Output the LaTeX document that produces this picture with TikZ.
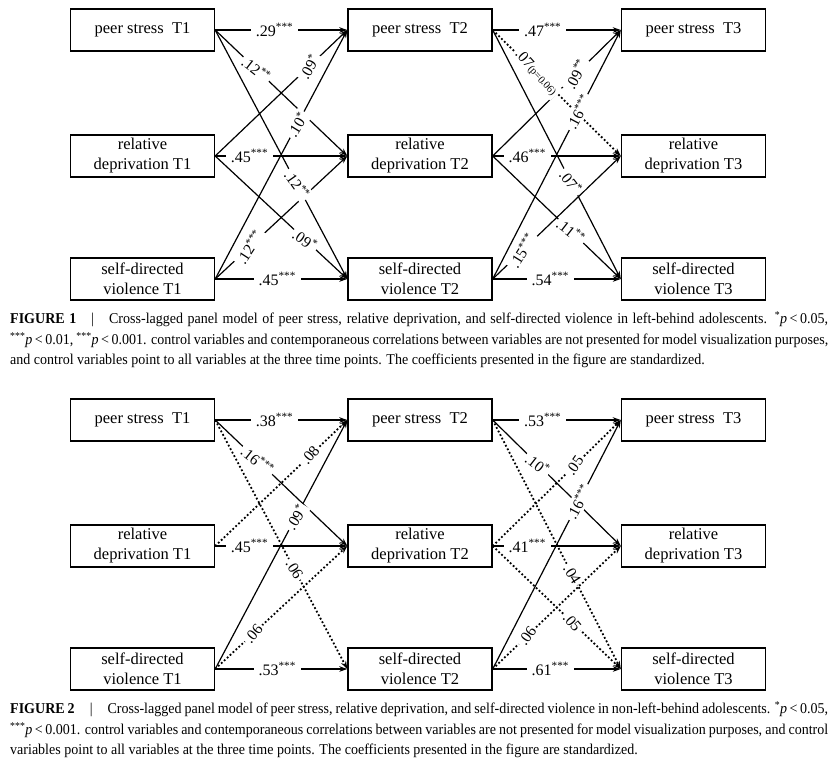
\documentclass[tikz,border=0pt]{standalone}
\usepackage{fontspec}
\setmainfont{Liberation Serif}
\newfontfamily\capfont[FakeStretch=0.935]{Liberation Serif}
\usetikzlibrary{arrows.meta}
\newcommand\sg[1]{\textsuperscript{#1}}
\newcommand\capline[1]{\capfont\fontsize{15}{17}\selectfont #1}
\begin{document}
\begin{tikzpicture}[x=1pt,y=-1pt,
  box/.style={draw, line width=1.4pt, minimum width=144pt, minimum height=42pt, inner sep=0pt, align=center, font=\fontsize{16.5}{20}\selectfont},
  ar/.style={line width=1.2pt, -{Stealth[length=8pt,width=5.5pt]}},
  dt/.style={ar, dash pattern=on 1.8pt off 2.2pt, line width=1.8pt},
  hl/.style={fill=white, inner xsep=5pt, inner ysep=2pt, font=\fontsize{16}{18}\selectfont},
  cl/.style={fill=white, inner sep=2pt, font=\fontsize{15.5}{17}\selectfont},
  capn/.style={anchor=base west, inner sep=0pt},
]
\useasboundingbox (0,0) rectangle (838,764);
\fill[white] (0,0) rectangle (838,764);

% ---------- Figure 1 boxes
\node[box] (p1) at (142.5,30) {peer stress\ \ T1};
\node[box] (r1) at (142.5,156) {relative\\deprivation T1};
\node[box] (s1) at (142.5,279) {self-directed\\violence T1};
\node[box] (p2) at (420,30) {peer stress\ \ T2};
\node[box] (r2) at (420,156) {relative\\deprivation T2};
\node[box] (s2) at (420,279) {self-directed\\violence T2};
\node[box] (p3) at (693.5,30) {peer stress\ \ T3};
\node[box] (r3) at (693.5,156) {relative\\deprivation T3};
\node[box] (s3) at (693.5,279) {self-directed\\violence T3};

% ---------- Figure 2 boxes
\node[box] (q1) at (142.5,420) {peer stress\ \ T1};
\node[box] (u1) at (142.5,546) {relative\\deprivation T1};
\node[box] (v1) at (142.5,669) {self-directed\\violence T1};
\node[box] (q2) at (420,420) {peer stress\ \ T2};
\node[box] (u2) at (420,546) {relative\\deprivation T2};
\node[box] (v2) at (420,669) {self-directed\\violence T2};
\node[box] (q3) at (693.5,420) {peer stress\ \ T3};
\node[box] (u3) at (693.5,546) {relative\\deprivation T3};
\node[box] (v3) at (693.5,669) {self-directed\\violence T3};

% ---------- Figure 1 connectors
\draw[ar] (p1.east) -- (p2.west);
\draw[ar] (p1.east) -- (r2.west);
\draw[ar] (p1.east) -- (s2.west);
\draw[ar] (r1.east) -- (p2.west);
\draw[ar] (r1.east) -- (r2.west);
\draw[ar] (r1.east) -- (s2.west);
\draw[ar] (s1.east) -- (p2.west);
\draw[ar] (s1.east) -- (r2.west);
\draw[ar] (s1.east) -- (s2.west);
\draw[ar] (p2.east) -- (p3.west);
\draw[dt] (p2.east) -- (r3.west);
\draw[ar] (p2.east) -- (s3.west);
\draw[ar] (r2.east) -- (p3.west);
\draw[ar] (r2.east) -- (r3.west);
\draw[ar] (r2.east) -- (s3.west);
\draw[ar] (s2.east) -- (p3.west);
\draw[ar] (s2.east) -- (r3.west);
\draw[ar] (s2.east) -- (s3.west);

% ---------- Figure 2 connectors
\draw[ar] (q1.east) -- (q2.west);
\draw[ar] (q1.east) -- (u2.west);
\draw[dt] (q1.east) -- (v2.west);
\draw[dt] (u1.east) -- (q2.west);
\draw[ar] (u1.east) -- (u2.west);
\draw[ar] (v1.east) -- (q2.west);
\draw[dt] (v1.east) -- (u2.west);
\draw[ar] (v1.east) -- (v2.west);
\draw[ar] (q2.east) -- (q3.west);
\draw[ar] (q2.east) -- (u3.west);
\draw[dt] (q2.east) -- (v3.west);
\draw[dt] (u2.east) -- (q3.west);
\draw[ar] (u2.east) -- (u3.west);
\draw[dt] (u2.east) -- (v3.west);
\draw[ar] (v2.east) -- (q3.west);
\draw[dt] (v2.east) -- (u3.west);
\draw[ar] (v2.east) -- (v3.west);

% ---------- Figure 1 labels
\path (p1.east) -- node[hl,pos=.45] (l1) {.29\sg{***}} (p2.west);
\path (p1.east) -- node[cl,pos=.31,rotate=-38] (l2) {.12\sg{**}} (r2.west);
\path (r1.east) -- node[cl,pos=.71,rotate=60] (l3) {.09\sg{*}} (p2.west);
\path (s1.east) -- node[cl,pos=.62,rotate=58] (l4) {.10\sg{*}} (p2.west);
\path (r1.east) -- node[hl,pos=.26] (l5) {.45\sg{***}} (r2.west);
\path (p1.east) -- node[cl,pos=.62,rotate=-55] (l6) {.12\sg{**}} (s2.west);
\path (s1.east) -- node[cl,pos=.26,rotate=57] (l7) {.12\sg{***}} (r2.west);
\path (r1.east) -- node[cl,pos=.68,rotate=-35] (l8) {.09\sg{*}} (s2.west);
\path (s1.east) -- node[hl,pos=.47] (l9) {.45\sg{***}} (s2.west);

\path (p2.east) -- node[hl,pos=.39] (m1) {.47\sg{***}} (p3.west);
\path (p2.east) -- node[cl,pos=.34,rotate=-48] (m2) {.07{\fontsize{10.5}{12}\selectfont(p=0.06)}} (r3.west);
\path (r2.east) -- node[cl,pos=.65,rotate=62] (m3) {.09\sg{**}} (p3.west);
\path (s2.east) -- node[cl,pos=.67,rotate=62] (m4) {.16\sg{***}} (p3.west);
\path (r2.east) -- node[hl,pos=.27] (m5) {.46\sg{***}} (r3.west);
\path (p2.east) -- node[cl,pos=.61,rotate=-52] (m6) {.07\sg{*}} (s3.west);
\path (s2.east) -- node[cl,pos=.23,rotate=58] (m7) {.15\sg{***}} (r3.west);
\path (r2.east) -- node[cl,pos=.61,rotate=-38] (m8) {.11\sg{**}} (s3.west);
\path (s2.east) -- node[hl,pos=.45] (m9) {.54\sg{***}} (s3.west);

% ---------- Figure 2 labels
\path (q1.east) -- node[hl,pos=.45] (n1) {.38\sg{***}} (q2.west);
\path (q1.east) -- node[cl,pos=.32,rotate=-38] (n2) {.16\sg{***}} (u2.west);
\path (u1.east) -- node[cl,pos=.72,rotate=50] (n3) {.08} (q2.west);
\path (v1.east) -- node[cl,pos=.61,rotate=58] (n4) {.09\sg{*}} (q2.west);
\path (u1.east) -- node[hl,pos=.26] (n5) {.45\sg{***}} (u2.west);
\path (q1.east) -- node[cl,pos=.60,rotate=-58] (n6) {.06} (v2.west);
\path (v1.east) -- node[cl,pos=.29,rotate=50] (n7) {.06} (u2.west);
\path (v1.east) -- node[hl,pos=.47] (n8) {.53\sg{***}} (v2.west);

\path (q2.east) -- node[hl,pos=.39] (o1) {.53\sg{***}} (q3.west);
\path (q2.east) -- node[cl,pos=.35,rotate=-38] (o2) {.10\sg{*}} (u3.west);
\path (u2.east) -- node[cl,pos=.64,rotate=55] (o3) {.05} (q3.west);
\path (v2.east) -- node[cl,pos=.67,rotate=62] (o4) {.16\sg{***}} (q3.west);
\path (u2.east) -- node[hl,pos=.27] (o5) {.41\sg{***}} (u3.west);
\path (q2.east) -- node[cl,pos=.62,rotate=-58] (o6) {.04} (v3.west);
\path (v2.east) -- node[cl,pos=.27,rotate=55] (o7) {.06} (u3.west);
\path (u2.east) -- node[cl,pos=.62,rotate=-50] (o8) {.05} (v3.west);
\path (v2.east) -- node[hl,pos=.45] (o9) {.61\sg{***}} (v3.west);

% ---------- Captions
\node[capn] (c1a) at (10,323.5) {\capline{\makebox[818pt][s]{\textbf{FIGURE 1}\quad|\quad Cross-lagged panel model of peer stress, relative deprivation, and self-directed violence in left-behind adolescents. \sg{*}\textit{p}\,<\,0.05,}}};
\node[capn] (c1b) at (10,344.5) {\capline{\makebox[818pt][s]{\sg{***}\textit{p}\,<\,0.01, \sg{***}\textit{p}\,<\,0.001. control variables and contemporaneous correlations between variables are not presented for model visualization purposes,}}};
\node[capn] (c1c) at (10,364.5) {\capline{and control variables point to all variables at the three time points. The coefficients presented in the figure are standardized.}};

\node[capn] (c2a) at (10,713.5) {\capline{\makebox[818pt][s]{\textbf{FIGURE 2}\quad|\quad Cross-lagged panel model of peer stress, relative deprivation, and self-directed violence in non-left-behind adolescents. \sg{*}\textit{p}\,<\,0.05,}}};
\node[capn] (c2b) at (10,734.5) {\capline{\makebox[818pt][s]{\sg{***}\textit{p}\,<\,0.001. control variables and contemporaneous correlations between variables are not presented for model visualization purposes, and control}}};
\node[capn] (c2c) at (10,754.5) {\capline{variables point to all variables at the three time points. The coefficients presented in the figure are standardized.}};
\end{tikzpicture}
\end{document}
